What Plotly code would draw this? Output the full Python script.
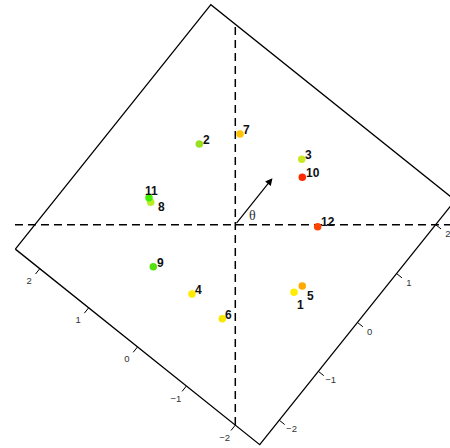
import numpy as np
import plotly.graph_objects as go

# ---- data ----
point_ids = ["1", "2", "3", "4", "5", "6", "7", "8", "9", "10", "11", "12"]
x_vals = [0.938, -0.575, 1.061, -0.692, 1.070, -0.208, 0.075, -1.351, -1.310, 1.070, -1.379, 1.316]
y_vals = [-1.080, 1.289, 1.045, -1.107, -0.979, -1.502, 1.449, 0.358, -0.671, 0.757, 0.431, -0.032]
point_colors = ["#FFEE00", "#99E020", "#CCE822", "#FFEA00", "#FFAA00", "#F8E800",
                "#FFC400", "#BBEE22", "#55E010", "#FF2A00", "#44EE00", "#FF4400"]
tick_vals = [-2, -1, 0, 1, 2]
tick_labels = ["\u22122", "\u22121", "0", "1", "2"]
theta = np.arctan(1.25)      # rotation of the frame
half_side = 2.5              # half side of the rotated square
arrow_len = 0.95

# label offsets in pixels (style)
lab_dx = [6, 6.7, 6.6, 6.3, 8.4, 6, 6.7, 10.3, 7.4, 10.4, 2.7, 10]
lab_dy = [-13.4, 3, 3.3, 3, -11.3, 2.7, 3.3, -5.4, 2.7, 4, 6, 3.4]

c, s = np.cos(theta), np.sin(theta)


def to_xy(u, v):
    u = np.asarray(u, dtype=float)
    v = np.asarray(v, dtype=float)
    return u * c - v * s, u * s + v * c


H = half_side
fig = go.Figure()

# square (rotated frame)
su = [-H, H, H, -H, -H]
sv = [H, H, -H, -H, H]
sx, sy = to_xy(su, sv)
fig.add_trace(go.Scatter(x=sx, y=sy, mode="lines", line=dict(color="black", width=1.3),
                         hoverinfo="skip"))

# dashed reference axes
fig.add_trace(go.Scatter(x=[-3.52, 3.6], y=[0, 0], mode="lines",
                         line=dict(color="black", width=1.5, dash="8px,5px"), hoverinfo="skip"))
fig.add_trace(go.Scatter(x=[0, 0], y=[-3.2, 3.2], mode="lines",
                         line=dict(color="black", width=1.5, dash="8px,5px"), hoverinfo="skip"))

# ticks on both rotated axes
L = 0.11
tx, ty = [], []
for t in tick_vals:
    x0, y0 = to_xy(-H, t)
    x1, y1 = to_xy(-H - L, t)
    tx += [float(x0), float(x1), None]
    ty += [float(y0), float(y1), None]
    x0, y0 = to_xy(t, -H)
    x1, y1 = to_xy(t, -H - L)
    tx += [float(x0), float(x1), None]
    ty += [float(y0), float(y1), None]
fig.add_trace(go.Scatter(x=tx, y=ty, mode="lines", line=dict(color="black", width=1),
                         hoverinfo="skip"))

lx1, ly1 = to_xy([-H - 0.27] * len(tick_vals), tick_vals)
lx2, ly2 = to_xy(tick_vals, [-H - 0.25] * len(tick_vals))
fig.add_trace(go.Scatter(x=list(lx1) + list(lx2), y=list(ly1) + list(ly2), mode="text",
                         text=tick_labels + tick_labels,
                         textfont=dict(family="Liberation Sans, Arial, sans-serif", size=9.5,
                                       color="#333333"),
                         hoverinfo="skip"))

# points
fig.add_trace(go.Scatter(x=x_vals, y=y_vals, mode="markers",
                         marker=dict(color=point_colors, size=7.5, line=dict(width=0)),
                         hoverinfo="skip"))

annotations = []
for pid, x, y, dx, dy in zip(point_ids, x_vals, y_vals, lab_dx, lab_dy):
    annotations.append(dict(x=x, y=y, text="<b>%s</b>" % pid, showarrow=False,
                            xanchor="center", yanchor="middle", xshift=dx, yshift=dy + 0.8,
                            font=dict(family="Liberation Sans, Arial, sans-serif", size=12,
                                      color="#111111")))

# arrow along the rotated axis
ax_tip, ay_tip = to_xy(arrow_len, 0)
annotations.append(dict(x=float(ax_tip), y=float(ay_tip), ax=0, ay=0, axref="x", ayref="y",
                        xref="x", yref="y", text="", showarrow=True, arrowhead=2,
                        arrowsize=1.2, arrowwidth=1.2, arrowcolor="black"))
annotations.append(dict(x=0.278, y=0.144, text="\u03b8", showarrow=False,
                        font=dict(family="Liberation Serif, DejaVu Serif, serif", size=14,
                                  color="#333333")))

fig.update_layout(
    width=450, height=448,
    margin=dict(l=0, r=0, t=0, b=0),
    paper_bgcolor="white", plot_bgcolor="white",
    showlegend=False,
    xaxis=dict(range=[-3.759, 3.430], visible=False, fixedrange=True),
    yaxis=dict(range=[-3.567, 3.589], visible=False, fixedrange=True),
    annotations=annotations,
)

fig.write_html("out.html", config={"displayModeBar": False, "staticPlot": True},
               post_script="document.body.style.margin='0';document.body.style.overflow='hidden';")
